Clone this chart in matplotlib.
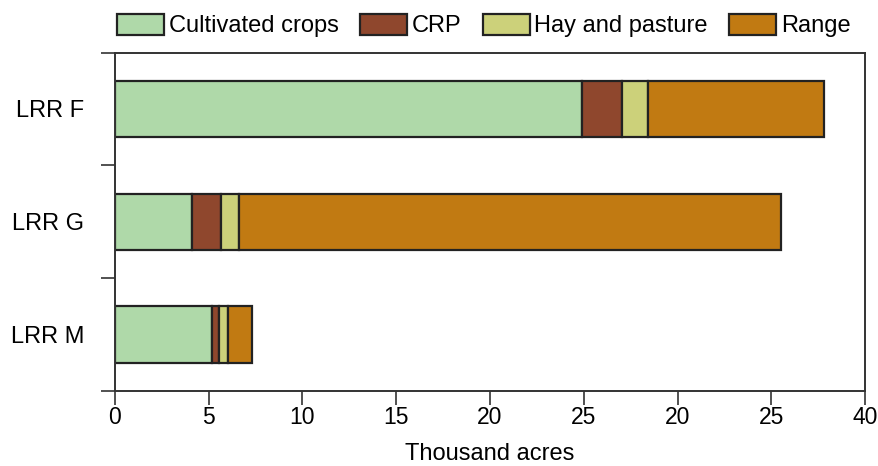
import matplotlib.pyplot as plt
import numpy as np

plt.rcParams['font.family'] = ['Liberation Sans', 'DejaVu Sans']

# Land use by region (thousand acres)
regions = ['LRR F', 'LRR G', 'LRR M']
cultivated = [24.9, 4.1, 5.17]
crp = [2.15, 1.55, 0.36]
hay = [1.4, 0.95, 0.48]
range_land = [9.35, 28.9, 1.28]

series = ['Cultivated crops', 'CRP', 'Hay and pasture', 'Range']
colors = ['#afd9a9', '#8f472d', '#ccd17a', '#c17a12']

xticks = [0, 5, 10, 15, 20, 25, 30, 35, 40]
xtick_labels = ['0', '5', '10', '15', '20', '25', '20', '25', '40']

fig = plt.figure(figsize=(8.79, 4.66), dpi=100)
ax = fig.add_axes([0.1308, 0.1616, 0.8533, 0.7254])

y = np.arange(len(regions))
left = np.zeros(len(regions))
for name, vals, c in zip(series, [cultivated, crp, hay, range_land], colors):
    ax.barh(y, vals, left=left, height=0.5, color=c, edgecolor='#222222',
            linewidth=1.6, label=name)
    left += np.array(vals)

ax.set_xlim(0, 40)
ax.set_ylim(-0.5, 2.5)
ax.invert_yaxis()

ax.set_xticks(xticks)
ax.set_xticklabels(xtick_labels, fontsize=16.5)
ax.set_yticks(y)
ax.set_yticklabels(regions, fontsize=17)
ax.set_yticks([-0.5, 0.5, 1.5, 2.5], minor=True)
ax.tick_params(axis='y', which='major', length=0, pad=22)
ax.tick_params(axis='y', which='minor', length=10, width=1.2, color='#333333')
ax.tick_params(axis='x', length=10, width=1.2, color='#333333', pad=1)

for s in ax.spines.values():
    s.set_color('#333333')
    s.set_linewidth(1.4)

ax.set_xlabel('Thousand acres', fontsize=17, labelpad=10)

ax.legend(loc='upper right', bbox_to_anchor=(0.984, 1.0), bbox_transform=fig.transFigure,
          ncol=4, frameon=False, fontsize=17, handlelength=2.0, handleheight=0.95,
          handletextpad=0.2, columnspacing=0.9, borderaxespad=0.2)

plt.savefig('out.png', dpi=100)
